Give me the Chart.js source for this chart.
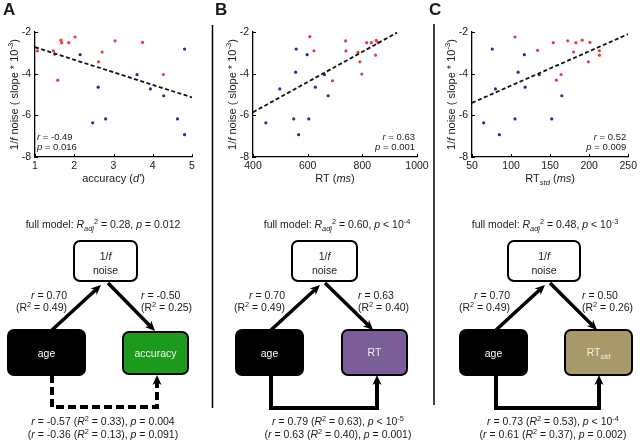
<!DOCTYPE html>
<html><head><meta charset="utf-8">
<script src="https://cdn.jsdelivr.net/npm/chart.js@4.4.1/dist/chart.umd.min.js"></script>
<style>
html,body{margin:0;padding:0;background:#fff;}
#wrap{position:relative;width:640px;height:442px;overflow:hidden;background:#fff;font-family:Arial,"Liberation Sans",sans-serif;}
canvas{position:absolute;top:0;}
svg{position:absolute;left:0;top:0;}
svg text{white-space:pre;font-family:Arial,"Liberation Sans",sans-serif;}
</style></head>
<body><div id="wrap">
<canvas id="cA" width="212" height="195" style="left:0px"></canvas>
<canvas id="cB" width="222" height="195" style="left:212px"></canvas>
<canvas id="cC" width="206" height="195" style="left:434px"></canvas>
<svg id="ov" width="640" height="442" viewBox="0 0 640 442"></svg>
</div>
<script>
// ---------- data ----------
const yTicks = [-8, -6, -4, -2];
const accuracyOld = [[1.06,-2.91],[1.47,-2.90],[1.50,-3.07],[1.58,-4.31],[1.66,-2.39],[1.68,-2.51],[1.86,-2.51],[2.02,-2.24],[2.62,-3.43],[2.71,-2.96],[3.04,-2.43],[3.74,-2.50],[4.27,-4.04]];
const accuracyYoung = [[2.15,-3.09],[2.61,-4.65],[2.47,-6.36],[2.80,-6.17],[3.60,-4.05],[3.94,-4.73],[4.28,-5.06],[4.81,-2.82],[4.63,-6.17],[4.81,-6.93]];
const accuracyFit = [[1,-2.73],[5,-5.14]];
const rtOld = [[608,-2.22],[623,-2.90],[691,-4.34],[739,-2.43],[740,-2.91],[784,-2.98],[791,-3.43],[798,-4.02],[816,-2.51],[833,-2.51],[851,-2.40],[857,-2.51],[848,-3.11]];
const rtYoung = [[558,-2.82],[598,-3.09],[556,-3.93],[498,-4.73],[447,-6.36],[549,-6.17],[567,-6.93],[604,-6.17],[628,-4.65],[661,-4.05],[675,-5.06]];
const rtFit = [[400,-5.85],[927,-2.03]];
const rtStdOld = [[105,-2.24],[134,-2.88],[154,-2.51],[158,-4.31],[164,-4.04],[172.5,-2.42],[180,-2.96],[183,-2.51],[191,-2.39],[199,-3.43],[201,-2.50],[213,-2.90],[213,-3.11]];
const rtStdYoung = [[76,-2.82],[117,-3.09],[109,-3.93],[80,-4.73],[65,-6.36],[85,-6.93],[105,-6.17],[118,-4.65],[136,-4.05],[152,-6.17],[165,-5.06]];
const rtStdFit = [[50,-5.4],[250,-2.1]];
const xTicksA = [1,2,3,4,5];
const xTicksB = [400,600,800,1000];
const xTicksC = [50,100,150,200,250];
const statsA = ["`r` = -0.49", "`p` = 0.016"];
const statsB = ["`r` = 0.63", "`p` = 0.001"];
const statsC = ["`r` = 0.52", "`p` = 0.009"];

const RED = '#e63b45', BLUE = '#2a2f92', INK = '#1a1a1a';
const FONT = 'Arial, "Liberation Sans", sans-serif';

function parseRich(txt){
  return txt.split(/(`[^`]+`|_\{[^}]+\}|\^\{[^}]+\})/).filter(s=>s).map(p=>{
    if(p[0]==='`') return {t:p.slice(1,-1), it:true, small:false, lvl:0};
    if(p[0]==='_') return {t:p.slice(2,-1), it:true, small:true, lvl:0.28};
    if(p[0]==='^') return {t:p.slice(2,-1), it:false, small:true, lvl:-0.42};
    return {t:p, it:false, small:false, lvl:0};
  });
}
function drawRich(ctx, txt, x, y, size, align, rot){
  const items = parseRich(txt).map(p=>{
    const fs = p.small ? size*0.7 : size;
    const font = (p.it?'italic ':'') + fs + 'px ' + FONT;
    ctx.font = font;
    return Object.assign(p,{font, w:ctx.measureText(p.t).width});
  });
  const total = items.reduce((a,b)=>a+b.w,0);
  ctx.save(); ctx.translate(x,y); if(rot) ctx.rotate(rot);
  ctx.textAlign='left'; ctx.textBaseline='alphabetic'; ctx.fillStyle=INK;
  let cx = align==='center' ? -total/2 : align==='right' ? -total : 0;
  for(const it of items){ ctx.font=it.font; ctx.fillText(it.t, cx, it.lvl*size); cx+=it.w; }
  ctx.restore();
}
const toPts = arr => arr.map(([x,y])=>({x,y}));

const extras = {
  id:'extras',
  afterDraw(chart){
    const o = chart.options.plugins.extras, ctx = chart.ctx, a = chart.chartArea;
    const xs = chart.scales.x, ys = chart.scales.y;
    ctx.save(); ctx.strokeStyle='#000'; ctx.lineWidth=1;
    for(const v of o.xt){ const px = Math.round(xs.getPixelForValue(v))+0.5; ctx.beginPath(); ctx.moveTo(px,a.bottom); ctx.lineTo(px,a.bottom-3); ctx.stroke(); }
    for(const v of yTicks){ const py = Math.round(ys.getPixelForValue(v))+0.5; ctx.beginPath(); ctx.moveTo(a.left,py); ctx.lineTo(a.left+3,py); ctx.stroke(); }
    ctx.restore();
    drawRich(ctx, o.xTitle, (a.left+a.right)/2, a.bottom+25, 11, 'center', 0);
    drawRich(ctx, "1/`f` noise ( slope * 10^{-3})", a.left-17, (a.top+a.bottom)/2, 11, 'center', -Math.PI/2);
    const sx = o.statsAlign==='left' ? a.left+2 : a.right-2;
    drawRich(ctx, o.stats[0], sx, a.bottom-17, 9.5, o.statsAlign, 0);
    drawRich(ctx, o.stats[1], sx, a.bottom-7, 9.5, o.statsAlign, 0);
  }
};

function makeChart(id, old, young, fit, xt, yW, padR, xTitle, stats, statsAlign){
  new Chart(document.getElementById(id), {
    type:'scatter',
    data:{datasets:[
      {data:toPts(fit), showLine:true, borderColor:'#111', borderWidth:1.8, borderDash:[4,2.5], pointRadius:0, fill:false},
      {data:toPts(old), backgroundColor:RED, borderWidth:0, pointRadius:1.6},
      {data:toPts(young), backgroundColor:BLUE, borderWidth:0, pointRadius:1.6}
    ]},
    options:{
      responsive:false, animation:false, devicePixelRatio:1,
      layout:{padding:{top:32,right:padR,left:0,bottom:0}},
      plugins:{legend:{display:false}, tooltip:{enabled:false},
        extras:{xt, xTitle, stats, statsAlign}},
      scales:{
        x:{type:'linear', min:xt[0], max:xt[xt.length-1],
          afterBuildTicks: s => { s.ticks = xt.map(v=>({value:v})); },
          ticks:{font:{size:10.5,family:FONT}, color:INK, padding:3, maxRotation:0, autoSkip:false, callback: v => String(v)},
          grid:{display:false, drawTicks:false},
          border:{display:true, color:'#000', width:1.3},
          afterFit: s => { s.height = 38; }},
        y:{type:'linear', min:-8, max:-2,
          afterBuildTicks: s => { s.ticks = yTicks.map(v=>({value:v})); },
          ticks:{font:{size:10.5,family:FONT}, color:INK, padding:4, callback: v => String(v)},
          grid:{display:false, drawTicks:false},
          border:{display:true, color:'#000', width:1.3},
          afterFit: s => { s.width = yW; }}
      }
    },
    plugins:[extras]
  });
}
makeChart('cA', accuracyOld, accuracyYoung, accuracyFit, xTicksA, 35, 20, "accuracy (`d'`)", statsA, 'left');
makeChart('cB', rtOld, rtYoung, rtFit, xTicksB, 41, 17, "RT (`ms`)", statsB, 'right');
makeChart('cC', rtStdOld, rtStdYoung, rtStdFit, xTicksC, 38, 8, "RT_{std} (`ms`)", statsC, 'right');

// ---------- overlay: letters, separators, path diagrams ----------
const NS = 'http://www.w3.org/2000/svg';
const svg = document.getElementById('ov');
function el(name, attrs){ const e=document.createElementNS(NS,name); for(const k in attrs) e.setAttribute(k,attrs[k]); svg.appendChild(e); return e; }
function rich(x, y, txt, opt){
  opt = opt||{};
  const size = opt.size||10.5;
  const t = el('text',{x, y, 'text-anchor':opt.anchor||'middle', 'font-size':size, fill:opt.fill||INK, 'font-weight':opt.weight||'normal'});
  let shift = 0;
  for(const p of parseRich(txt)){
    const ts = document.createElementNS(NS,'tspan');
    const target = p.lvl*size;
    ts.setAttribute('dy', (target-shift).toFixed(2)); shift = target;
    if(p.small) ts.setAttribute('font-size', (size*0.7).toFixed(2));
    if(p.it) ts.setAttribute('font-style','italic');
    ts.textContent = p.t; t.appendChild(ts);
  }
  return t;
}
function box(x1,y1,x2,y2,fill){ el('rect',{x:x1,y:y1,width:x2-x1,height:y2-y1,rx:6,ry:6,fill,stroke:'#000','stroke-width':2}); }
function head(x2,y2,ux,uy){
  const L=10, W=4.5, N=3, px=-uy, py=ux;
  const bx=x2-ux*L, by=y2-uy*L;
  const pts=[[x2,y2],[bx+px*W,by+py*W],[x2-ux*(L-N),y2-uy*(L-N)],[bx-px*W,by-py*W]];
  el('polygon',{points:pts.map(p=>p.join(',')).join(' '),fill:'#000'});
}
function arrow(x1,y1,x2,y2){
  const d=Math.hypot(x2-x1,y2-y1), ux=(x2-x1)/d, uy=(y2-y1)/d;
  el('line',{x1,y1,x2:x2-ux*7,y2:y2-uy*7,stroke:'#000','stroke-width':3.5});
  head(x2,y2,ux,uy);
}
function uPath(xl,yTop,yLow,xr,yTip,dashed){
  const a={points:`${xl},${yTop} ${xl},${yLow} ${xr},${yLow} ${xr},${yTip+7}`,fill:'none',stroke:'#000','stroke-width':4,'stroke-linejoin':'miter'};
  if(dashed) a['stroke-dasharray']='8,4';
  el('polyline',a);
  head(xr,yTip,0,-1);
}

// letters
rich(3,15,'A',{anchor:'start',size:17,weight:'bold'});
rich(215,15,'B',{anchor:'start',size:17,weight:'bold'});
rich(429,15,'C',{anchor:'start',size:17,weight:'bold'});
// separators
el('line',{x1:212.5,y1:25,x2:212.5,y2:408,stroke:'#000','stroke-width':1.5});
el('line',{x1:434,y1:24,x2:434,y2:405,stroke:'#000','stroke-width':1.5});

const panels = [
  {cx:103, f:[74,137], age:[8,85], out:[123,188], outY:[332,374], col:'#1c9a1c', lab:'accuracy', labFill:'#eef7ee',
   a1:[52,330,101,285], a2:[108,283,155,331], lx:67, rx:141,
   model:"full model: `R`_{adj}^{2} = 0.28, `p` = 0.012",
   l1:["`r` = 0.70","(R^{2} = 0.49)"], r1:["`r` = -0.50","(R^{2} = 0.25)"],
   u:[52,375,407,157,375,true], bx:103,
   b:["`r` = -0.57 (`R`^{2} = 0.33), `p` = 0.004","(`r` = -0.36 (`R`^{2} = 0.13), `p` = 0.091)"]},
  {cx:337, f:[292,357], age:[236,303], out:[342,407], outY:[330,375], col:'#7a5e98', lab:'RT', labFill:'#f2eef6',
   a1:[271,330,320,285], a2:[325,283,373,330], lx:285, rx:358,
   model:"full model: `R`_{adj}^{2} = 0.60, `p` < 10^{-4}",
   l1:["`r` = 0.70","(R^{2} = 0.49)"], r1:["`r` = 0.63","(R^{2} = 0.40)"],
   u:[271,375,408,377,375,false], bx:338,
   b:["`r` = 0.79 (`R`^{2} = 0.63), `p` < 10^{-5}","(`r` = 0.63 (`R`^{2} = 0.40), `p` = 0.001)"]},
  {cx:545, f:[508,580], age:[460,527], out:[565,632], outY:[330,375], col:'#a8996b', lab:'RT_{std}', labFill:'#f4f0e4',
   a1:[496,330,545,285], a2:[550,283,597,330], lx:510, rx:582,
   model:"full model: `R`_{adj}^{2} = 0.48, `p` < 10^{-3}",
   l1:["`r` = 0.70","(R^{2} = 0.49)"], r1:["`r` = 0.50","(R^{2} = 0.26)"],
   u:[496,375,408,599,375,false], bx:553,
   b:["`r` = 0.73 (`R`^{2} = 0.53), `p` < 10^{-4}","(`r` = 0.61 (`R`^{2} = 0.37), `p` = 0.002)"]}
];
for(const P of panels){
  rich(P.cx, 228, P.model);
  box(P.f[0],241,P.f[1],281,'#fff');
  const fc=(P.f[0]+P.f[1])/2;
  rich(fc,260,"1/`f`"); rich(fc,274,"noise");
  box(P.age[0],330,P.age[1],375,'#000');
  rich((P.age[0]+P.age[1])/2,356.5,"age",{fill:'#fff'});
  box(P.out[0],P.outY[0],P.out[1],P.outY[1],P.col);
  rich((P.out[0]+P.out[1])/2,(P.outY[0]+P.outY[1])/2+3.5,P.lab,{fill:P.labFill});
  arrow(...P.a1); arrow(...P.a2);
  rich(P.lx,299,P.l1[0],{anchor:'end'}); rich(P.lx,311,P.l1[1],{anchor:'end'});
  rich(P.rx,299,P.r1[0],{anchor:'start'}); rich(P.rx,311,P.r1[1],{anchor:'start'});
  uPath(...P.u);
  rich(P.bx,425,P.b[0]); rich(P.bx,438,P.b[1]);
}
</script>
</body></html>
